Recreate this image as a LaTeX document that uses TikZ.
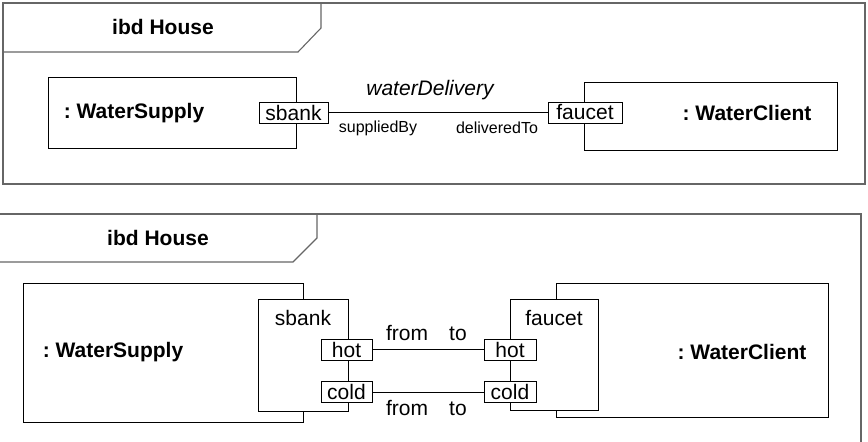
\documentclass[tikz,border=0pt]{standalone}
\usepackage{fontspec}
\setmainfont{Liberation Sans}
\frenchspacing
\begin{document}
\begin{tikzpicture}[x=1pt,y=-1pt,
  frameline/.style={draw=black!60, line width=1.1pt},
  part/.style={draw=black, line width=0.9pt, fill=white, inner sep=0pt},
  port/.style={draw=black, line width=0.9pt, fill=white, inner sep=0pt, font=\fontsize{21}{24}\selectfont},
  bigtxt/.style={font=\bfseries\fontsize{21}{24}\selectfont, inner sep=0pt},
  txt/.style={font=\fontsize{21}{24}\selectfont, inner sep=0pt},
  smalltxt/.style={font=\fontsize{16}{19}\selectfont, inner sep=0pt},
  conn/.style={draw=black, line width=0.9pt}]
\useasboundingbox (0,0) rectangle (868,442);

% ---------- top diagram ----------
\draw[frameline] (3,3) rectangle (865,184);
\draw[frameline] (3,52) -- (298,52) -- (321,28) -- (321,3);
\node[bigtxt] (title1) at (163,27) {ibd House};

\node[part, minimum width=248pt, minimum height=71pt] (ws1) at (172,112.5) {};
\node[bigtxt] (ws1t) at (134,113) {: WaterSupply};
\node[part, minimum width=253pt, minimum height=68pt] (wc1) at (710.5,116) {};
\node[bigtxt] (wc1t) at (747,113) {: WaterClient};

\node[port, minimum width=69pt, minimum height=21pt] (sbank1) at (293.5,112.5) {sbank};
\node[port, minimum width=74pt, minimum height=21pt] (faucet1) at (585,112.5) {faucet};
\draw[conn] (sbank1.east) -- (faucet1.west);

\node[txt, font=\itshape\fontsize{21}{24}\selectfont] (wd) at (430,90) {waterDelivery};
\node[smalltxt] (sb) at (378,128) {suppliedBy};
\node[smalltxt] (dt) at (497,128) {deliveredTo};

% ---------- bottom diagram ----------
\draw[frameline] (-5,214) -- (861,214) -- (861,450);
\draw[frameline] (-5,262) -- (293,262) -- (317,238) -- (317,214);
\node[bigtxt] (title2) at (158,238) {ibd House};

\node[part, minimum width=280pt, minimum height=139pt] (ws2) at (163,352.5) {};
\node[bigtxt] (ws2t) at (113,352) {: WaterSupply};
\node[part, minimum width=272pt, minimum height=134pt] (wc2) at (692,350) {};
\node[bigtxt] (wc2t) at (742,352) {: WaterClient};

\node[part, minimum width=90pt, minimum height=112pt] (sbank2) at (303,355) {};
\node[txt] (sbank2t) at (303,318) {sbank};
\node[part, minimum width=88pt, minimum height=111pt] (faucet2) at (554,354.5) {};
\node[txt] (faucet2t) at (554,318) {faucet};

\node[port, minimum width=51pt, minimum height=21pt] (hotL) at (346.5,349.5) {hot};
\node[port, minimum width=51pt, minimum height=21pt] (coldL) at (346.5,392) {cold};
\node[port, minimum width=52pt, minimum height=21pt] (hotR) at (510,349.5) {hot};
\node[port, minimum width=52pt, minimum height=21pt] (coldR) at (510,392) {cold};

\draw[conn] (hotL.east) -- (hotR.west);
\draw[conn] (coldL.east) -- (coldR.west);

\node[txt, anchor=base] (from1) at (407,340.5) {from};
\node[txt, anchor=base] (to1) at (458,340.5) {to};
\node[txt, anchor=base] (from2) at (407,415.5) {from};
\node[txt, anchor=base] (to2) at (458,415.5) {to};
\end{tikzpicture}
\end{document}
